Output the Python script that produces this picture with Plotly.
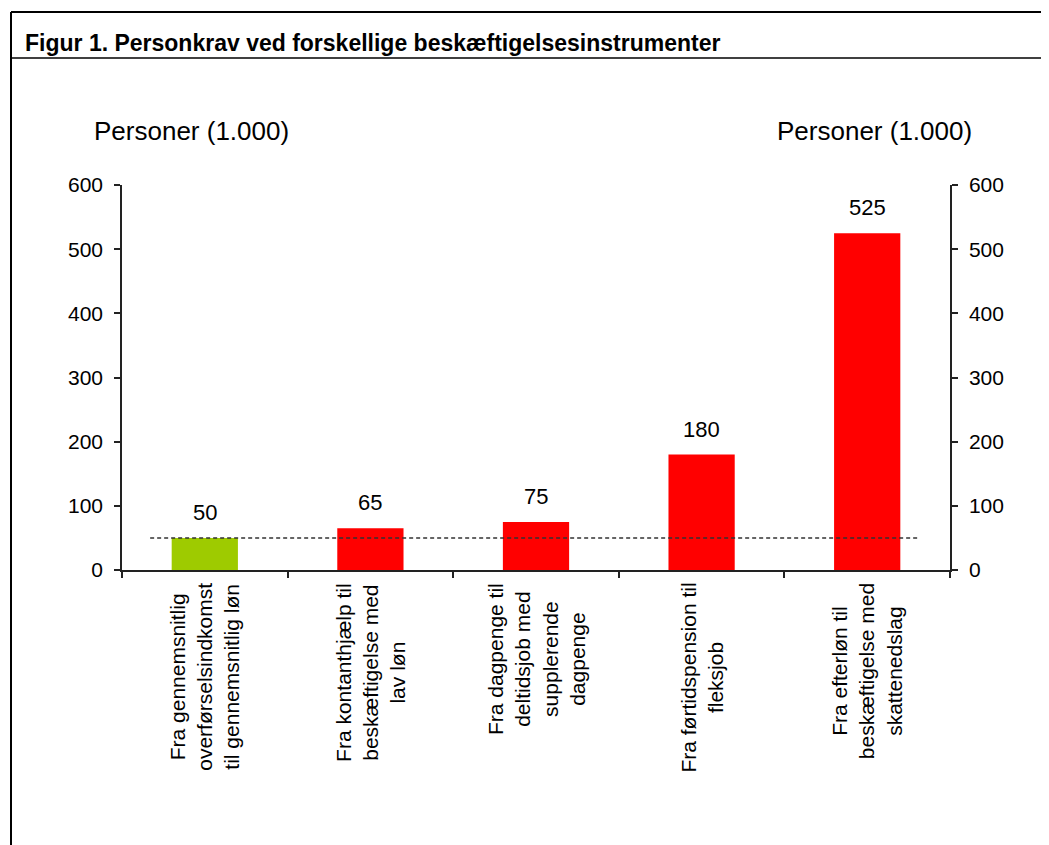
import plotly.graph_objects as go

categories = [
    "Fra gennemsnitlig<br>overførselsindkomst<br>til gennemsnitlig løn",
    "Fra kontanthjælp til<br>beskæftigelse med<br>lav løn",
    "Fra dagpenge til<br>deltidsjob med<br>supplerende<br>dagpenge",
    "Fra førtidspension til<br>fleksjob",
    "Fra efterløn til<br>beskæftigelse med<br>skattenedslag",
]
values = [50, 65, 75, 180, 525]
value_labels = ["50", "65", "75", "180", "525"]
bar_colors = ["#9ECB00", "#FF0000", "#FF0000", "#FF0000", "#FF0000"]
reference_level = 50
y_ticks = [0, 100, 200, 300, 400, 500, 600]
title_text = "Figur 1. Personkrav ved forskellige beskæftigelsesinstrumenter"
y_title = "Personer (1.000)"

OFF = 8  # page body margin
W, H = 1049 - OFF, 845 - OFF
# plot area in page pixels
PL, PR, PT, PB = 122, 950, 185, 570
L, R, T, B = PL - OFF, PR - OFF, PT - OFF, PB - OFF

def px(xp):
    return (xp - PL) / (PR - PL)

def py(yp):
    return (PB - yp) / (PB - PT)

xpos = list(range(len(categories)))
FONT = "Liberation Sans, Arial"

fig = go.Figure()
fig.add_trace(go.Bar(
    x=xpos, y=values, marker_color=bar_colors, marker_line_width=0,
    width=0.4, hoverinfo="skip", showlegend=False,
))
fig.add_trace(go.Scatter(x=[None], y=[None], yaxis="y2", showlegend=False, hoverinfo="skip"))

ann = []
for i, (v, t) in enumerate(zip(values, value_labels)):
    ann.append(dict(x=i, y=v, xref="x", yref="y", text=t, showarrow=False,
                    yanchor="bottom", yshift=11,
                    font=dict(family=FONT, size=22, color="#000")))
for i, c in enumerate(categories):
    ann.append(dict(x=i, y=0, xref="x", yref="y", text=c, showarrow=False,
                    textangle=-90, yanchor="top", xanchor="center", yshift=-11,
                    align="center",
                    font=dict(family=FONT, size=21, color="#000")))
for cx in (191, 874):
    ann.append(dict(x=px(cx), y=py(131), xref="paper", yref="paper", text=y_title,
                    showarrow=False, xanchor="center", yanchor="middle",
                    font=dict(family=FONT, size=26, color="#000")))

shapes = [
    dict(type="line", xref="x", yref="y", x0=-0.33, x1=4.31,
         y0=reference_level, y1=reference_level,
         line=dict(color="#333333", width=1.5, dash="4px,3px")),
    dict(type="line", xref="paper", yref="paper", x0=px(11), x1=px(11),
         y0=py(850), y1=py(12), line=dict(color="#000", width=2)),
    dict(type="line", xref="paper", yref="paper", x0=px(11), x1=px(1060),
         y0=py(12), y1=py(12), line=dict(color="#000", width=2)),
    dict(type="line", xref="paper", yref="paper", x0=px(11), x1=px(1060),
         y0=py(58), y1=py(58), line=dict(color="#000", width=1.5)),
]

axis_font = dict(family=FONT, size=21, color="#000")
axis_common = dict(range=[0, 600], tickvals=y_ticks, showgrid=False, zeroline=False,
                   showline=True, linecolor="#222", linewidth=1.5,
                   ticks="outside", ticklen=6, tickcolor="#222", tickwidth=1.5,
                   tickfont=axis_font, ticklabelstandoff=7)

fig.update_layout(
    width=W, height=H,
    margin=dict(l=L, r=W - R, t=T, b=H - B, autoexpand=False),
    paper_bgcolor="white", plot_bgcolor="white",
    title=dict(text="<b>" + title_text + "</b>", xref="container", yref="container",
               x=(25 - OFF) / W, xanchor="left", y=1 - (43 - OFF) / H, yanchor="middle",
               font=dict(family="Liberation Sans Narrow, Arial Narrow, Liberation Sans",
                         size=23, color="#000")),
    xaxis=dict(range=[-0.5, len(categories) - 0.5], showgrid=False, zeroline=False,
               showline=True, linecolor="#222", linewidth=1.5,
               tickmode="array", tickvals=[i - 0.5 for i in range(len(categories) + 1)],
               ticks="outside", ticklen=6, tickcolor="#222", tickwidth=1.5,
               showticklabels=False),
    yaxis=dict(**axis_common),
    yaxis2=dict(**axis_common, overlaying="y", side="right"),
    annotations=ann, shapes=shapes, bargap=0.6,
)

fig.write_html("out.html")
